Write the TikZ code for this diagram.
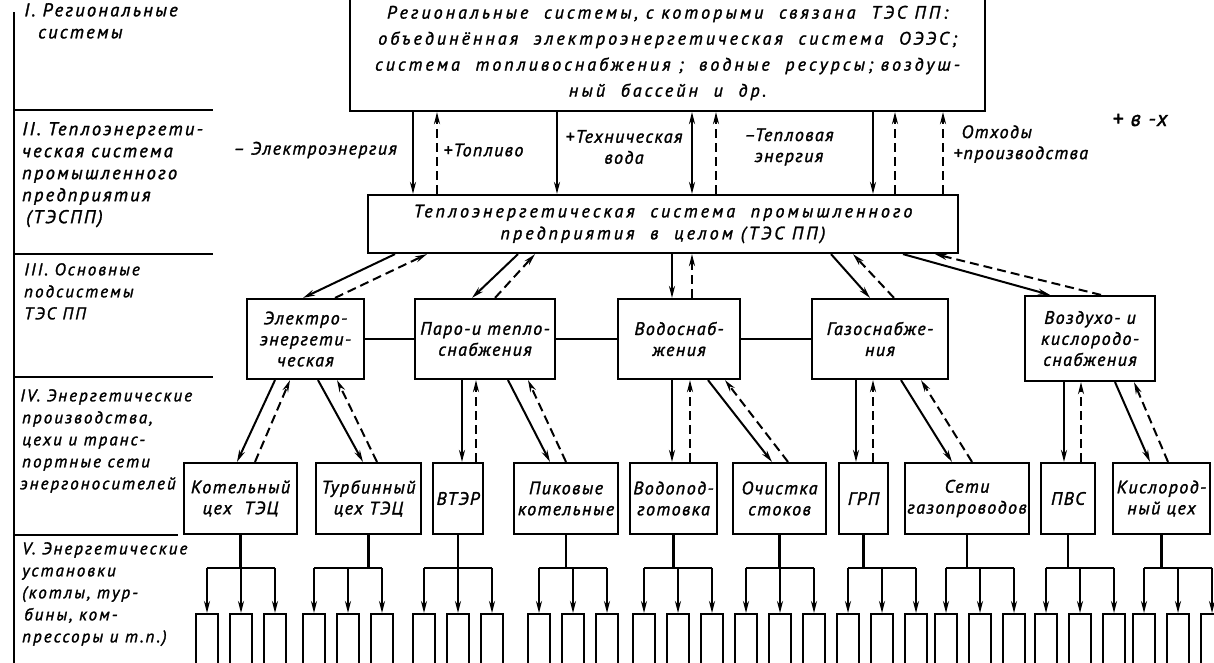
\documentclass[tikz,border=0pt]{standalone}
\usepackage{fontspec}
\newfontfamily\draftfont[LetterSpace=8,FakeBold=1.5]{PT Sans}
\newfontfamily\sidefont[LetterSpace=12,FakeBold=1.5]{PT Sans}
\newfontfamily\widefont[LetterSpace=17,FakeBold=1.5]{PT Sans}
\usetikzlibrary{arrows.meta}

\begin{document}
\begin{tikzpicture}[x=1pt,y=-1pt,
    every node/.style={font=\draftfont\itshape\fontsize{18}{21}\selectfont, align=center},
    blk/.style={draw, line width=2.2pt, inner sep=1pt},
    unitbox/.style={draw, line width=2pt, minimum width=22pt, minimum height=70pt, anchor=north, inner sep=0pt},
    flow/.style={-{Stealth[length=12pt,width=6pt]}, line width=2pt},
    ret/.style={flow, dash pattern=on 9pt off 5pt},
    both/.style={{Stealth[length=12pt,width=6pt]}-{Stealth[length=12pt,width=6pt]}, line width=2pt},
    rule/.style={line width=2.2pt},
    lbl/.style={align=left, anchor=north west, inner sep=0pt, font=\sidefont\itshape\fontsize{17}{22}\selectfont},
    biglbl/.style={lbl, font=\sidefont\itshape\fontsize{18.5}{22}\selectfont}]
\useasboundingbox (0,0) rectangle (1214,662);

\draw[rule] (14,12) -- (14,670);
\draw[rule] (14,110) -- (213,110);
\draw[rule] (14,254) -- (213,254);
\draw[rule] (14,377) -- (213,377);
\draw[rule] (14,535) -- (178,535);

\node[biglbl] (s1) at (24,3) {I. Региональные\\\hspace{14pt}системы};
\node[biglbl] (s2) at (22,122) {II. Теплоэнергети-\\ческая система\\промышленного\\предприятия\\\hspace{4pt}(ТЭСПП)};
\node[lbl] (s3) at (24,263) {III. Основные\\подсистемы\\ТЭС ПП};
\node[lbl] (s4) at (20,389) {IV. Энергетические\\\hspace{2pt}производства,\\\hspace{2pt}цехи и транс-\\\hspace{2pt}портные сети\\энергоносителей};
\node[lbl] (s5) at (22,542) {V. Энергетические\\установки\\(котлы, тур-\\\hspace{2pt}бины, ком-\\прессоры и т.п.)};

\node[blk, minimum width=635pt, minimum height=116pt, font=\widefont\itshape\fontsize{18}{26}\selectfont] (reg) at (667.5,53)
  {Региональные~ системы, с которыми~ связана~ ТЭС ПП:\\
   объединённая~ электроэнергетическая~ система~ ОЭЭС;\\
   система~ топливоснабжения ;~ водные~ ресурсы; воздуш-\\
   ный~ бассейн~ и~ др.};
\node[blk, minimum width=590pt, minimum height=58pt, font=\widefont\itshape\fontsize{18}{22}\selectfont] (tes) at (663,224)
  {Теплоэнергетическая~ система~ промышленного\\предприятия~ в~ целом (ТЭС ПП)};

\node[anchor=west] (l1) at (230,150) {– Электроэнергия};
\node[anchor=west] (l2) at (440,150) {+Топливо};
\node (l3) at (624,147) {+Техническая\\вода};
\node (l4) at (789,147) {–Тепловая\\энергия};
\node[align=left, anchor=west] (l5) at (950,144) {\hspace{8pt}Отходы\\+производства};
\node[font=\draftfont\itshape\fontsize{22}{22}\selectfont] (l6) at (1140,120) {+ в -х};

\draw[flow] (reg.south -| 413,0) -- (tes.north -| 413,0);
\draw[ret] (tes.north -| 437,0) -- (reg.south -| 437,0);
\draw[flow] (reg.south -| 557,0) -- (tes.north -| 557,0);
\draw[both] (reg.south -| 692,0) -- (tes.north -| 692,0);
\draw[ret] (tes.north -| 716,0) -- (reg.south -| 716,0);
\draw[flow] (reg.south -| 873,0) -- (tes.north -| 873,0);
\draw[ret] (tes.north -| 895,0) -- (reg.south -| 895,0);
\draw[ret] (tes.north -| 943,0) -- (reg.south -| 943,0);

\node[blk, minimum width=117pt, minimum height=80pt] (el) at (305.5,339) {Электро-\\энергети-\\ческая};
\node[blk, minimum width=140pt, minimum height=80pt] (par) at (485,339) {Паро-и тепло-\\снабжения};
\node[blk, minimum width=122pt, minimum height=80pt] (vod) at (679,339) {Водоснаб-\\жения};
\node[blk, minimum width=136pt, minimum height=80pt] (gaz) at (880,339) {Газоснабже-\\ния};
\node[blk, minimum width=130pt, minimum height=85pt] (vzd) at (1090,338.5) {Воздухо- и\\кислородо-\\снабжения};

\draw[rule] (el) -- (par);
\draw[rule] (par) -- (vod);
\draw[rule] (vod) -- (gaz);

\draw[flow] (tes.south -| 395,0) -- (el.north -| 303,0);
\draw[ret] (el.north -| 335,0) -- (tes.south -| 427,0);
\draw[flow] (tes.south -| 518,0) -- (par.north -| 472,0);
\draw[ret] (par.north -| 495,0) -- (tes.south -| 535,0);
\draw[flow] (tes.south -| 672,0) -- (vod.north -| 672,0);
\draw[ret] (vod.north -| 692,0) -- (tes.south -| 692,0);
\draw[flow] (tes.south -| 831,0) -- (gaz.north -| 870,0);
\draw[ret] (gaz.north -| 894,0) -- (tes.south -| 853,0);
\draw[flow] (tes.south -| 903,0) -- (vzd.north -| 1050,0);
\draw[ret] (vzd.north -| 1101,0) -- (tes.south -| 935,0);

\node[blk, minimum width=113pt, minimum height=71pt] (kot) at (240.5,498.5) {Котельный\\цех~ ТЭЦ};
\node[blk, minimum width=105pt, minimum height=71pt] (tur) at (368.5,498.5) {Турбинный\\цех ТЭЦ};
\node[blk, minimum width=50pt, minimum height=71pt] (vter) at (458,498.5) {ВТЭР};
\node[blk, minimum width=104pt, minimum height=71pt] (pik) at (566,498.5) {Пиковые\\котельные};
\node[blk, minimum width=87pt, minimum height=71pt] (vpod) at (673.5,498.5) {Водопод-\\готовка};
\node[blk, minimum width=93pt, minimum height=71pt] (och) at (779.5,498.5) {Очистка\\стоков};
\node[blk, minimum width=49pt, minimum height=71pt] (grp) at (863.5,498.5) {ГРП};
\node[blk, minimum width=124pt, minimum height=71pt] (seti) at (967,498.5) {Сети\\газопроводов};
\node[blk, minimum width=54pt, minimum height=71pt] (pvs) at (1068,498.5) {ПВС};
\node[blk, minimum width=97pt, minimum height=71pt] (kisl) at (1161.5,498.5) {Кислород-\\ный цех};

\draw[flow] (el.south -| 275,0) -- (kot.north -| 237,0);
\draw[ret] (kot.north -| 255,0) -- (el.south -| 290,0);
\draw[flow] (el.south -| 318,0) -- (tur.north -| 363,0);
\draw[ret] (tur.north -| 377,0) -- (el.south -| 337,0);
\draw[flow] (par.south -| 462,0) -- (vter.north -| 462,0);
\draw[ret] (vter.north -| 476,0) -- (par.south -| 476,0);
\draw[flow] (par.south -| 508,0) -- (pik.north -| 550,0);
\draw[ret] (pik.north -| 566,0) -- (par.south -| 528,0);
\draw[flow] (vod.south -| 672,0) -- (vpod.north -| 672,0);
\draw[ret] (vpod.north -| 690,0) -- (vod.south -| 690,0);
\draw[flow] (vod.south -| 708,0) -- (och.north -| 772,0);
\draw[ret] (och.north -| 788,0) -- (vod.south -| 725,0);
\draw[flow] (gaz.south -| 856,0) -- (grp.north -| 856,0);
\draw[ret] (grp.north -| 873,0) -- (gaz.south -| 873,0);
\draw[flow] (gaz.south -| 901,0) -- (seti.north -| 952,0);
\draw[ret] (seti.north -| 972,0) -- (gaz.south -| 921,0);
\draw[flow] (vzd.south -| 1064,0) -- (pvs.north -| 1064,0);
\draw[ret] (pvs.north -| 1081,0) -- (vzd.south -| 1081,0);
\draw[flow] (vzd.south -| 1115,0) -- (kisl.north -| 1150,0);
\draw[ret] (kisl.north -| 1168,0) -- (vzd.south -| 1134,0);

\foreach \b/\g in {kot/241,tur/348,vter/458,pik/573,vpod/678,och/780,grp/882,seti/980,pvs/1080,kisl/1178}{
  \foreach \d [count=\i] in {-34,0,34}
    \node[unitbox] (\b\i) at ({\g+\d},613) {};
  \draw[rule] (\b.south) -- (\b.south |- 0,568);
  \draw[rule] (\b1.north |- 0,568) -- (\b3.north |- 0,568);
  \foreach \i in {1,2,3}
    \draw[flow] (\b\i.north |- 0,568) -- (\b\i.north);
}
\end{tikzpicture}
\end{document}
